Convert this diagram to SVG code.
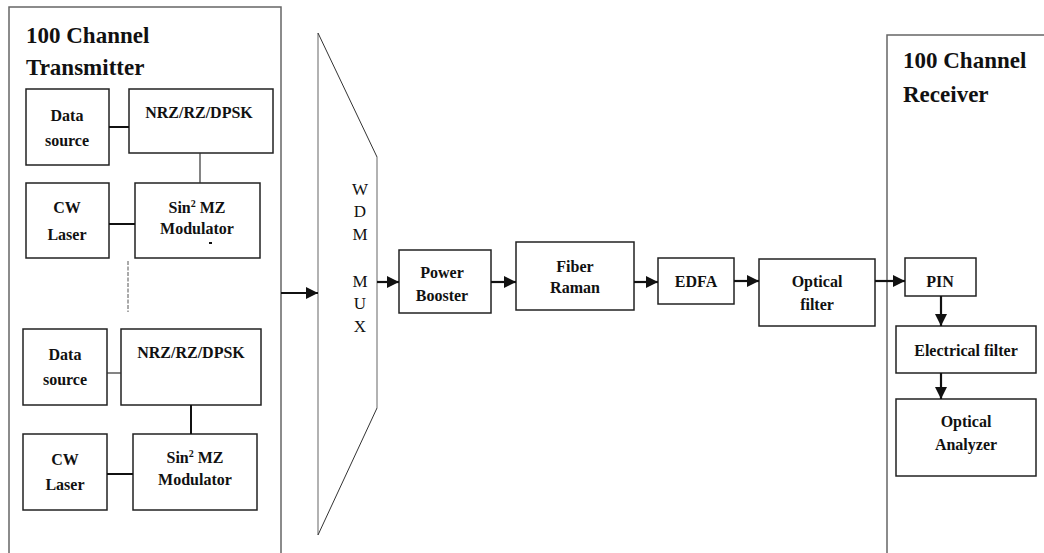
<svg xmlns="http://www.w3.org/2000/svg" width="1044" height="553" viewBox="0 0 1044 553">
<style>
.box{fill:#fff;stroke:#222;stroke-width:1.5}
.outer{fill:none;stroke:#666;stroke-width:1.5}
.t{font-family:"Liberation Serif","Times New Roman",serif;font-weight:bold;font-size:16px;fill:#111;text-anchor:middle}
.title{font-family:"Liberation Serif","Times New Roman",serif;font-weight:bold;font-size:23px;fill:#111}
.mux{font-family:"Liberation Serif","Times New Roman",serif;font-size:17px;fill:#111;text-anchor:middle}
.ln{stroke:#111;stroke-width:2;fill:none}
.thin{stroke:#333;stroke-width:1.2;fill:none}
.arr{stroke:#111;stroke-width:2.2;fill:none;marker-end:url(#ah)}
</style>
<defs>
<marker id="ah" markerWidth="12" markerHeight="12" refX="12" refY="6" orient="auto" markerUnits="userSpaceOnUse">
<path d="M0,0 L12,6 L0,12 Z" fill="#111"/>
</marker>
</defs>
<rect width="1044" height="553" fill="#fff"/>

<g id="transmitter">
<path class="outer" d="M9,553 V7 H281 V553"/>
<text class="title" x="26" y="43">100 Channel</text>
<text class="title" x="26" y="75">Transmitter</text>
</g>

<g id="data1"><rect class="box" x="26" y="89" width="83" height="76"/>
<text class="t" x="67" y="121">Data</text><text class="t" x="67" y="146">source</text></g>
<g id="nrz1"><rect class="box" x="129" y="89" width="144" height="64"/>
<text class="t" x="199" y="118">NRZ/RZ/DPSK</text></g>
<g id="cw1"><rect class="box" x="26" y="183" width="83" height="75"/>
<text class="t" x="67" y="213">CW</text><text class="t" x="67" y="240">Laser</text></g>
<g id="mz1"><rect class="box" x="135" y="183" width="125" height="75"/>
<text class="t" x="197" y="213">Sin<tspan font-size="10" dy="-6">2</tspan><tspan dy="6"> MZ</tspan></text>
<text class="t" x="197" y="234">Modulator</text>
<rect x="209" y="242" width="3" height="2" fill="#111"/></g>

<g id="data2"><rect class="box" x="23" y="329" width="84" height="76"/>
<text class="t" x="65" y="360">Data</text><text class="t" x="65" y="385">source</text></g>
<g id="nrz2"><rect class="box" x="121" y="329" width="140" height="76"/>
<text class="t" x="191" y="358">NRZ/RZ/DPSK</text></g>
<g id="cw2"><rect class="box" x="23" y="434" width="84" height="76"/>
<text class="t" x="65" y="465">CW</text><text class="t" x="65" y="490">Laser</text></g>
<g id="mz2"><rect class="box" x="133" y="434" width="124" height="76"/>
<text class="t" x="195" y="463">Sin<tspan font-size="10" dy="-6">2</tspan><tspan dy="6"> MZ</tspan></text>
<text class="t" x="195" y="485">Modulator</text></g>

<g id="wdm-mux">
<path d="M318,33 V535" stroke="#999" stroke-width="1.5" fill="none"/>
<path d="M377,157 V408" stroke="#999" stroke-width="1.5" fill="none"/>
<path d="M318,33 L377,157 M377,408 L318,535" stroke="#333" stroke-width="1" fill="none"/>
<text class="mux" x="360" y="195">W</text>
<text class="mux" x="360" y="217">D</text>
<text class="mux" x="360" y="240">M</text>
<text class="mux" x="360" y="287">M</text>
<text class="mux" x="360" y="309">U</text>
<text class="mux" x="360" y="332">X</text>
</g>

<g id="booster"><rect class="box" x="399" y="250" width="92" height="63"/>
<text class="t" x="442" y="278">Power</text><text class="t" x="442" y="301">Booster</text></g>
<g id="raman"><rect class="box" x="516" y="242" width="118" height="68"/>
<text class="t" x="575" y="272">Fiber</text><text class="t" x="575" y="293">Raman</text></g>
<g id="edfa"><rect class="box" x="658" y="258" width="76" height="46"/>
<text class="t" x="696" y="287">EDFA</text></g>
<g id="ofilter"><rect class="box" x="759" y="259" width="116" height="67"/>
<text class="t" x="817" y="287">Optical</text><text class="t" x="817" y="310">filter</text></g>

<g id="receiver">
<path class="outer" d="M887,553 V35 H1044"/>
<text class="title" x="903" y="68">100 Channel</text>
<text class="title" x="903" y="102">Receiver</text>
</g>
<g id="pin"><rect class="box" x="905" y="258" width="71" height="38"/>
<text class="t" x="940" y="287">PIN</text></g>
<g id="efilter"><rect class="box" x="896" y="326" width="140" height="47"/>
<text class="t" x="966" y="356">Electrical filter</text></g>
<g id="analyzer"><rect class="box" x="896" y="399" width="140" height="77"/>
<text class="t" x="966" y="427">Optical</text><text class="t" x="966" y="450">Analyzer</text></g>

<g id="connectors">
<line class="ln" x1="109" y1="127" x2="129" y2="127"/>
<line class="thin" x1="200" y1="153" x2="200" y2="183"/>
<line class="ln" x1="109" y1="224" x2="135" y2="224"/>
<line x1="128" y1="261" x2="128" y2="312" stroke="#555" stroke-width="1" stroke-dasharray="4,1.5"/>
<line class="thin" x1="107" y1="373" x2="121" y2="373"/>
<line class="ln" x1="191" y1="405" x2="191" y2="434"/>
<line class="ln" x1="107" y1="474" x2="133" y2="474"/>
<line class="arr" x1="281" y1="293" x2="318" y2="293"/>
<line class="arr" x1="377" y1="282" x2="399" y2="282"/>
<line class="arr" x1="491" y1="282" x2="516" y2="282"/>
<line class="arr" x1="634" y1="282" x2="658" y2="282"/>
<line class="arr" x1="734" y1="281" x2="759" y2="281"/>
<line class="arr" x1="875" y1="281" x2="905" y2="281"/>
<line class="arr" x1="941" y1="296" x2="941" y2="326"/>
<line class="arr" x1="941" y1="373" x2="941" y2="399"/>
</g>
</svg>
